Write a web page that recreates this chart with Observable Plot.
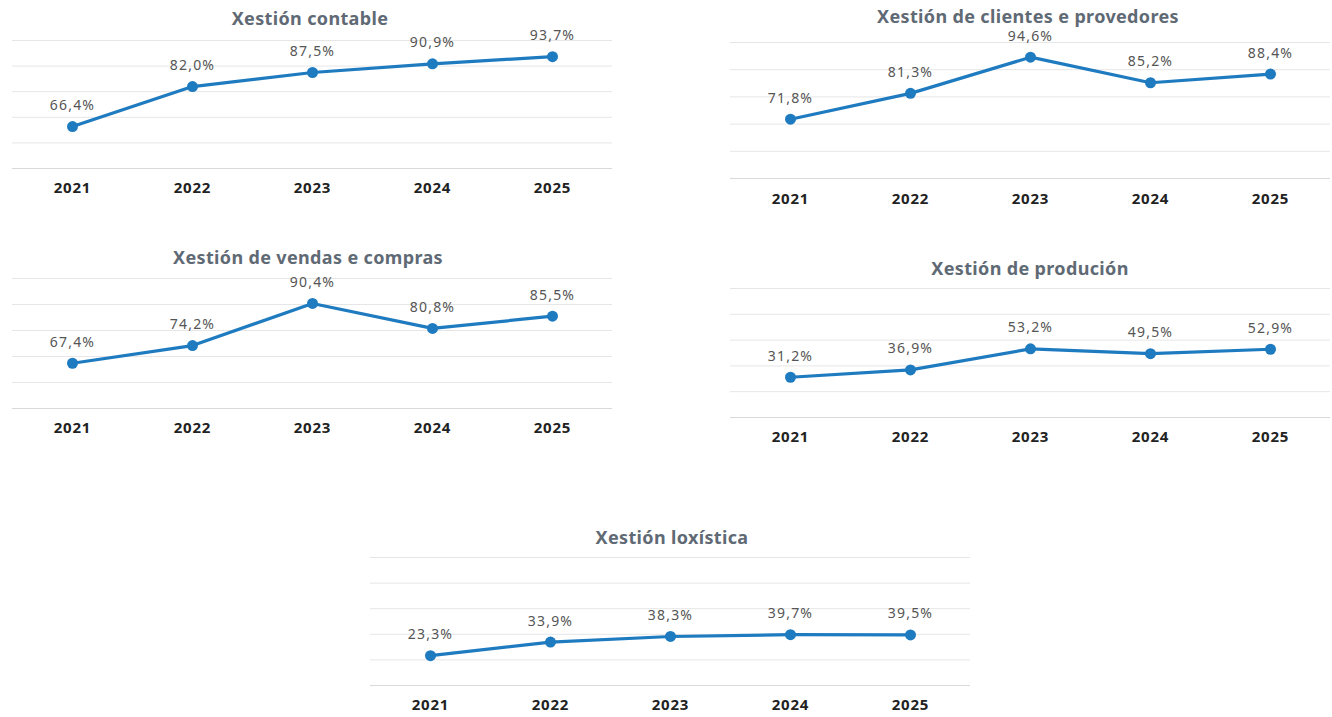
<!DOCTYPE html>
<html>
<head>
<meta charset="utf-8">
<script src="https://cdn.jsdelivr.net/npm/d3@7"></script>
<script src="https://cdn.jsdelivr.net/npm/@observablehq/plot@0.6"></script>
<style>
  html, body { margin: 0; padding: 0; background: #ffffff; }
  #root { position: relative; width: 1332px; height: 717px; overflow: hidden; font-family: "Noto Sans", sans-serif; }
  .title { position: absolute; width: 500px; text-align: center; font-weight: 700; font-size: 18px; letter-spacing: 0.35px; color: #5f6a75; line-height: 18px; }
  svg g[aria-label="x-axis tick label"] text { letter-spacing: 0.8px; }
  svg g[aria-label="text"] text { letter-spacing: 1.2px; }
</style>
</head>
<body>
<div id="root"></div>
<script>
const years = ["2021", "2022", "2023", "2024", "2025"];

const titles = [
  "Xestión contable",
  "Xestión de clientes e provedores",
  "Xestión de vendas e compras",
  "Xestión de produción",
  "Xestión loxística"
];

const contable = [66.4, 82.0, 87.5, 90.9, 93.7];
const clientes = [71.8, 81.3, 94.6, 85.2, 88.4];
const vendas = [67.4, 74.2, 90.4, 80.8, 85.5];
const producion = [31.2, 36.9, 53.2, 49.5, 52.9];
const loxistica = [23.3, 33.9, 38.3, 39.7, 39.5];

const gridHigh = [50, 60, 70, 80, 90, 100];
const gridFull = [0, 20, 40, 60, 80, 100];

const series = [contable, clientes, vendas, producion, loxistica];

// layout of each panel (page pixels)
const panels = [
  {left: 2, top: 30, width: 620, height: 170, mL: 10, mR: 10, domain: [50, 100], grid: gridHigh, tcx: 310, tcy: 18, pad: 13.5},
  {left: 720, top: 32, width: 612, height: 178, mL: 10, mR: 2, domain: [50, 100], grid: gridHigh, tcx: 1028, tcy: 16, pad: 14.5},
  {left: 2, top: 268, width: 620, height: 172, mL: 10, mR: 10, domain: [50, 100], grid: gridHigh, tcx: 308, tcy: 257, pad: 14},
  {left: 720, top: 278, width: 612, height: 171, mL: 10, mR: 2, domain: [0, 100], grid: gridFull, tcx: 1030, tcy: 268, pad: 14},
  {left: 360, top: 547, width: 620, height: 170, mL: 10, mR: 10, domain: [0, 100], grid: gridFull, tcx: 672, tcy: 537, pad: 14}
];

const fmt = v => d3.format(".1f")(v).replace(".", ",") + "%";
const root = document.getElementById("root");

panels.forEach((p, i) => {
  const data = years.map((y, j) => ({year: y, value: series[i][j]}));
  const chart = Plot.plot({
    width: p.width,
    height: p.height,
    marginTop: 10,
    marginBottom: 32,
    marginLeft: p.mL,
    marginRight: p.mR,
    style: {fontFamily: "'Noto Sans', sans-serif", background: "transparent", overflow: "visible"},
    x: {type: "point", domain: years, padding: 0.5, label: null},
    y: {domain: p.domain, axis: null},
    marks: [
      Plot.ruleY(p.grid.slice(1), {stroke: "#e6e6e6", strokeWidth: 1}),
      Plot.ruleY([p.domain[0]], {stroke: "#d9d9d9", strokeWidth: 1.2}),
      Plot.axisX({tickSize: 0, tickPadding: p.pad, fontSize: 15, fontWeight: 700, fill: "#222222", label: null}),
      Plot.line(data, {x: "year", y: "value", stroke: "#1f7bc0", strokeWidth: 3.2}),
      Plot.dot(data, {x: "year", y: "value", r: 5.5, fill: "#1f7bc0", stroke: "none"}),
      Plot.text(data, {x: "year", y: "value", text: d => fmt(d.value), dy: -21, fontSize: 14, fill: "#555555"})
    ]
  });
  chart.style.position = "absolute";
  chart.style.left = p.left + "px";
  chart.style.top = p.top + "px";
  root.appendChild(chart);

  const t = document.createElement("div");
  t.className = "title";
  t.textContent = titles[i];
  t.style.left = (p.tcx - 250) + "px";
  t.style.top = (p.tcy - 9) + "px";
  root.appendChild(t);
});
</script>
</body>
</html>
